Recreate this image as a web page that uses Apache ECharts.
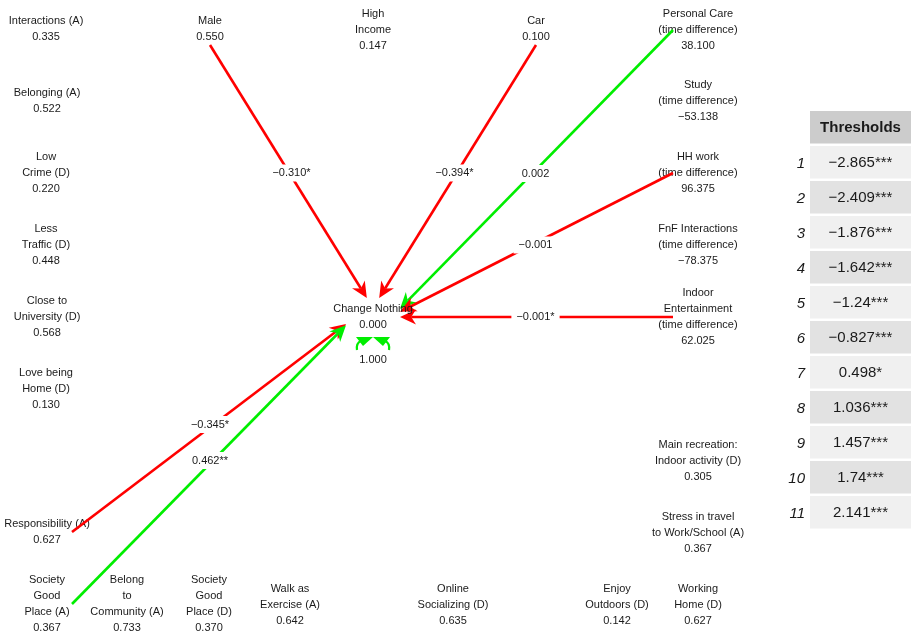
<!DOCTYPE html>
<html>
<head>
<meta charset="utf-8">
<script src="https://cdn.jsdelivr.net/npm/echarts@6/dist/echarts.min.js"></script>
<style>
html,body{margin:0;padding:0;background:#fff}
#main{width:911px;height:631px}
</style>
</head>
<body>
<div id="main"></div>
<script>
// path diagram: node labels (estimate underneath) and layout positions
const nodeLabels = [
  'Interactions (A)\n0.335',
  'Belonging (A)\n0.522',
  'Low\nCrime (D)\n0.220',
  'Less\nTraffic (D)\n0.448',
  'Close to\nUniversity (D)\n0.568',
  'Love being\nHome (D)\n0.130',
  'Responsibility (A)\n0.627',
  'Society\nGood\nPlace (A)\n0.367',
  'Belong\nto\nCommunity (A)\n0.733',
  'Society\nGood\nPlace (D)\n0.370',
  'Walk as\nExercise (A)\n0.642',
  'Online\nSocializing (D)\n0.635',
  'Enjoy\nOutdoors (D)\n0.142',
  'Working\nHome (D)\n0.627',
  'Main recreation:\nIndoor activity (D)\n0.305',
  'Stress in travel\nto Work/School (A)\n0.367',
  'Indoor\nEntertainment\n(time difference)\n62.025',
  'FnF Interactions\n(time difference)\n\u221278.375',
  'HH work\n(time difference)\n96.375',
  'Study\n(time difference)\n\u221253.138',
  'Personal Care\n(time difference)\n38.100',
  'Car\n0.100',
  'High\nIncome\n0.147',
  'Male\n0.550',
  'Change Nothing\n0.000'
];
const nodeX = [46, 47, 46, 46, 47, 46, 47, 47, 127, 209, 290, 453, 617, 698, 698, 698, 698, 698, 698, 698, 698, 536, 373, 210, 373];
const nodeY = [29, 101, 173, 245, 317, 389, 532, 604, 604, 604, 605, 605, 605, 605, 461, 533, 317, 245, 173, 101, 30, 29, 30, 29, 317];

// regression paths into "Change Nothing"
const edgeFrom = [23, 21, 20, 18, 16, 6, 7];
const edgeTo = [24, 24, 24, 24, 24, 24, 24];
const edgeLabels = ['\u22120.310*', '\u22120.394*', '0.002', '\u22120.001', '\u22120.001*', '\u22120.345*', '0.462**'];

// residual variance of the outcome
const residualNode = 24;
const residualLabel = '1.000';

// thresholds table
const thresholdRows = ['1', '2', '3', '4', '5', '6', '7', '8', '9', '10', '11'];
const thresholdValues = ['\u22122.865***', '\u22122.409***', '\u22121.876***', '\u22121.642***', '\u22121.24***',
  '\u22120.827***', '0.498*', '1.036***', '1.457***', '1.74***', '2.141***'];
const thresholdHeader = 'Thresholds';

const FONT = '"Liberation Sans", Arial, Helvetica, sans-serif';
const TXT = '#1a1a1a';
const RED = '#ff0000';
const GREEN = '#00ee00';

function edgeColor(label) {
  return label.charAt(0) === '\u2212' ? RED : GREEN;
}

// anchor on a node's invisible box: middle of the side facing direction (ux, uy),
// slid along that side by a share of the other component
function anchor(c, ux, uy, hw, hh, slide) {
  if (Math.abs(ux) >= Math.abs(uy)) {
    return [c[0] + Math.sign(ux) * hw, c[1] + uy * slide];
  }
  return [c[0] + ux * slide, c[1] + Math.sign(uy) * hh];
}

function renderNode(params, api) {
  const p = api.coord([api.value(0), api.value(1)]);
  return {
    type: 'text',
    x: p[0], y: p[1],
    style: {
      text: nodeLabels[api.value(2)],
      align: 'center', verticalAlign: 'middle',
      font: '11px ' + FONT, fill: TXT, lineHeight: 16
    }
  };
}

function renderEdge(params, api) {
  const i = params.dataIndex;
  const f = edgeFrom[i], t = edgeTo[i];
  const a = api.coord([nodeX[f], nodeY[f]]);
  const b = api.coord([nodeX[t], nodeY[t]]);
  let dx = b[0] - a[0], dy = b[1] - a[1];
  let len = Math.sqrt(dx * dx + dy * dy);
  const s = anchor(a, dx / len, dy / len, 25, 16, 0);
  dx = s[0] - b[0]; dy = s[1] - b[1];
  len = Math.sqrt(dx * dx + dy * dy);
  const e = anchor(b, dx / len, dy / len, 27, 19, 12);
  dx = e[0] - s[0]; dy = e[1] - s[1];
  len = Math.sqrt(dx * dx + dy * dy);
  const ux = dx / len, uy = dy / len;
  const head = 16, half = 7.5;
  const px = -uy, py = ux;
  const base = [e[0] - ux * head, e[1] - uy * head];
  const notch = [e[0] - ux * head * 0.7, e[1] - uy * head * 0.7];
  const col = edgeColor(edgeLabels[i]);
  const mid = [(a[0] + b[0]) / 2, (a[1] + b[1]) / 2];
  return {
    type: 'group',
    children: [
      { type: 'line', shape: { x1: s[0], y1: s[1], x2: notch[0], y2: notch[1] },
        style: { stroke: col, lineWidth: 2.6 } },
      { type: 'polygon', shape: { points: [e, [base[0] + px * half, base[1] + py * half], notch, [base[0] - px * half, base[1] - py * half]] },
        style: { fill: col } },
      { type: 'text', x: mid[0], y: mid[1], z2: 10,
        style: { text: edgeLabels[i], align: 'center', verticalAlign: 'middle',
          font: '11px ' + FONT, fill: TXT, backgroundColor: '#fff', padding: [3, 5] } }
    ]
  };
}

function renderResidual(params, api) {
  const c = api.coord([nodeX[residualNode], nodeY[residualNode]]);
  const x = c[0], y = c[1];
  return {
    type: 'group',
    children: [
      { type: 'polygon', shape: { points: [[x - 17, y + 20], [x, y + 20], [x - 10, y + 29]] }, style: { fill: GREEN } },
      { type: 'polygon', shape: { points: [[x + 17, y + 20], [x, y + 20], [x + 10, y + 29]] }, style: { fill: GREEN } },
      { type: 'path', shape: { pathData: 'M' + (x - 12) + ' ' + (y + 24) + ' Q' + (x - 17) + ' ' + (y + 26) + ' ' + (x - 16) + ' ' + (y + 33) },
        style: { stroke: GREEN, fill: null, lineWidth: 2.2 } },
      { type: 'path', shape: { pathData: 'M' + (x + 12) + ' ' + (y + 24) + ' Q' + (x + 17) + ' ' + (y + 26) + ' ' + (x + 16) + ' ' + (y + 33) },
        style: { stroke: GREEN, fill: null, lineWidth: 2.2 } },
      { type: 'text', x: x, y: y + 43,
        style: { text: residualLabel, align: 'center', verticalAlign: 'middle', font: '11px ' + FONT, fill: TXT } }
    ]
  };
}

function renderCell(params, api) {
  const row = api.value(1);
  const c = api.coord([0, row]);
  const band = api.size([0, 1])[1];
  const cs = params.coordSys;
  const top = c[1] - band / 2;
  const h = band - 2.5;
  const header = row === 0;
  const fill = header ? '#cccccc' : (row % 2 ? '#f0f0f0' : '#e2e2e2');
  return {
    type: 'group',
    children: [
      { type: 'rect', shape: { x: cs.x, y: top, width: cs.width, height: h }, style: { fill: fill } },
      { type: 'text', x: cs.x + cs.width / 2, y: top + h / 2 + 1,
        style: { text: header ? thresholdHeader : thresholdValues[row - 1],
          align: 'center', verticalAlign: 'middle',
          font: (header ? 'bold ' : '') + '15px ' + FONT, fill: TXT } }
    ]
  };
}

// exogenous labels sit under the paths, the outcome's label on top of its arrowheads
const allNodes = nodeLabels.map((l, i) => [nodeX[i], nodeY[i], i]);
const outcomeNodes = allNodes.filter(d => edgeTo.indexOf(d[2]) >= 0);
const otherNodes = allNodes.filter(d => edgeTo.indexOf(d[2]) < 0);

const chart = echarts.init(document.getElementById('main'), null, { renderer: 'canvas' });

chart.setOption({
  backgroundColor: '#fff',
  animation: false,
  grid: [
    { left: 0, right: 0, top: 0, bottom: 0 },
    { left: 810, width: 101, top: 111, height: 420 }
  ],
  xAxis: [
    { type: 'value', min: 0, max: 911, show: false, gridIndex: 0 },
    { type: 'value', min: 0, max: 1, show: false, gridIndex: 1 }
  ],
  yAxis: [
    { type: 'value', min: 0, max: 631, inverse: true, show: false, gridIndex: 0 },
    {
      type: 'category', gridIndex: 1, inverse: true,
      data: [''].concat(thresholdRows),
      axisLine: { show: false }, axisTick: { show: false }, splitLine: { show: false },
      axisLabel: { fontStyle: 'italic', fontSize: 15, fontFamily: FONT, color: TXT, margin: 5 }
    }
  ],
  series: [
    {
      type: 'custom', name: 'nodes', xAxisIndex: 0, yAxisIndex: 0, z: 1,
      renderItem: renderNode, clip: false,
      data: otherNodes
    },
    {
      type: 'custom', name: 'paths', xAxisIndex: 0, yAxisIndex: 0, z: 2,
      renderItem: renderEdge, clip: false,
      data: edgeLabels.map((l, i) => [nodeX[edgeFrom[i]], nodeY[edgeFrom[i]]])
    },
    {
      type: 'custom', name: 'residual', xAxisIndex: 0, yAxisIndex: 0, z: 2,
      renderItem: renderResidual, clip: false,
      data: [[nodeX[residualNode], nodeY[residualNode]]]
    },
    {
      type: 'custom', name: 'outcome', xAxisIndex: 0, yAxisIndex: 0, z: 3,
      renderItem: renderNode, clip: false,
      data: outcomeNodes
    },
    {
      type: 'custom', name: 'thresholds', xAxisIndex: 1, yAxisIndex: 1,
      renderItem: renderCell, clip: false,
      data: [[0.5, 0]].concat(thresholdRows.map((r, i) => [0.5, i + 1]))
    }
  ]
});
</script>
</body>
</html>
